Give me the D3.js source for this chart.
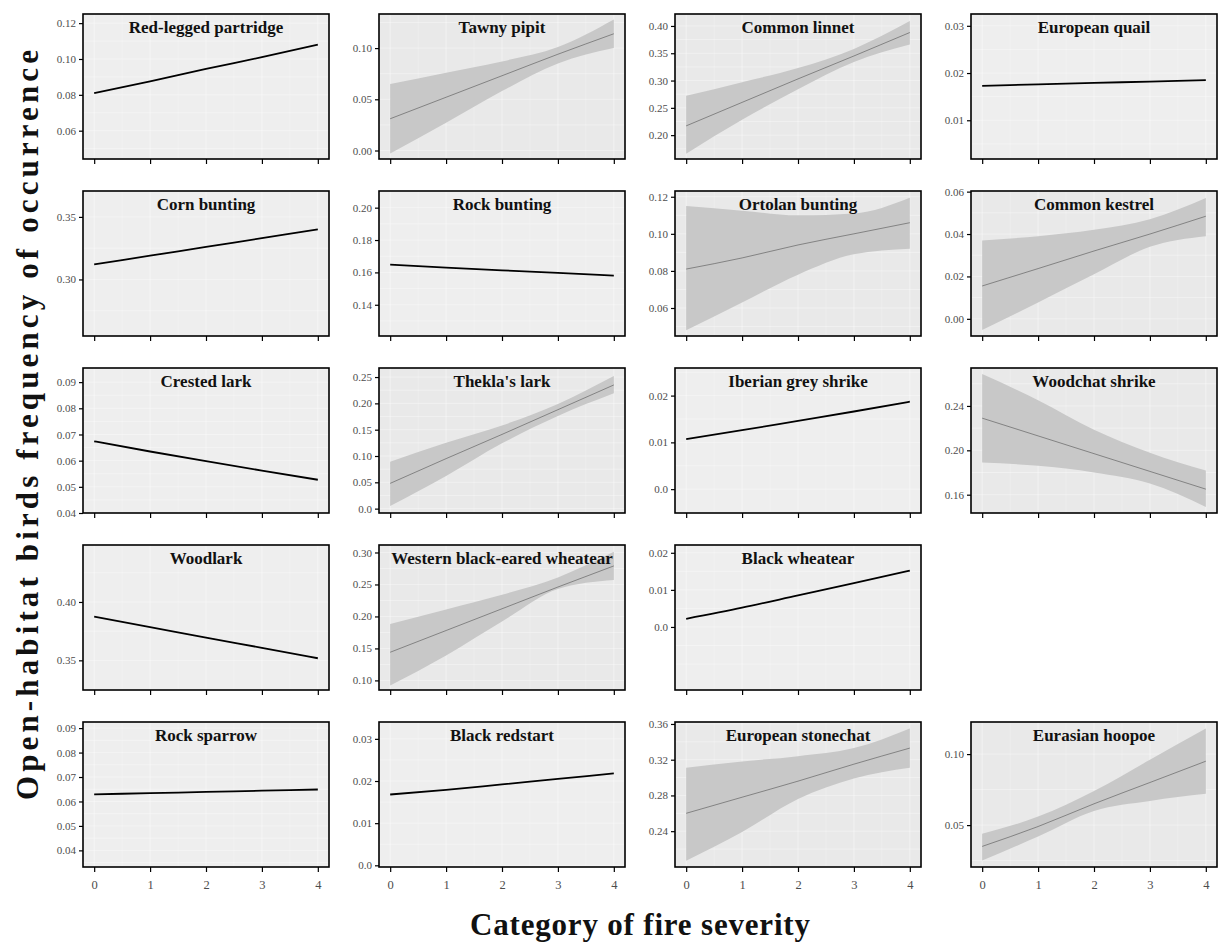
<!DOCTYPE html>
<html>
<head>
<meta charset="utf-8">
<script src="https://cdn.jsdelivr.net/npm/d3@7"></script>
<style>
  body { margin: 0; background: #fff; }
  svg { display: block; font-family: "Liberation Serif", "DejaVu Serif", serif; }
</style>
</head>
<body>
<svg id="chart"></svg>
<script>
// fire severity categories (x)
const severity = [0, 1, 2, 3, 4];

const species = [
  "Red-legged partridge", "Tawny pipit", "Common linnet", "European quail",
  "Corn bunting", "Rock bunting", "Ortolan bunting", "Common kestrel",
  "Crested lark", "Thekla's lark", "Iberian grey shrike", "Woodchat shrike",
  "Woodlark", "Western black-eared wheatear", "Black wheatear",
  "Rock sparrow", "Black redstart", "European stonechat", "Eurasian hoopoe"
];

// y limits of each panel
const yLimits = [
  [0.0442, 0.1251], [-0.0083, 0.1333], [0.1563, 0.4219], [0.0018, 0.0325],
  [0.2548, 0.3707], [0.1207, 0.2103], [0.0449, 0.1231], [-0.0081, 0.0603],
  [0.0400, 0.0954], [-0.0083, 0.2672], [-0.0051, 0.0259], [0.1435, 0.2742],
  [0.3246, 0.4488], [0.0850, 0.3117], [-0.0170, 0.0221],
  [0.0332, 0.0925], [-0.0004, 0.0340], [0.1999, 0.3622], [0.0205, 0.1226]
];

const yTicks = [
  [0.06, 0.08, 0.10, 0.12], [0, 0.05, 0.10], [0.20, 0.25, 0.30, 0.35, 0.40], [0.01, 0.02, 0.03],
  [0.30, 0.35], [0.14, 0.16, 0.18, 0.20], [0.06, 0.08, 0.10, 0.12], [0, 0.02, 0.04, 0.06],
  [0.04, 0.05, 0.06, 0.07, 0.08, 0.09], [0, 0.05, 0.10, 0.15, 0.20, 0.25], [0, 0.01, 0.02], [0.16, 0.20, 0.24],
  [0.35, 0.40], [0.10, 0.15, 0.20, 0.25, 0.30], [0, 0.01, 0.02],
  [0.04, 0.05, 0.06, 0.07, 0.08, 0.09], [0, 0.01, 0.02, 0.03], [0.24, 0.28, 0.32, 0.36], [0.05, 0.10]
];

const yTickLabels = [
  ["0.06", "0.08", "0.10", "0.12"], ["0.00", "0.05", "0.10"], ["0.20", "0.25", "0.30", "0.35", "0.40"], ["0.01", "0.02", "0.03"],
  ["0.30", "0.35"], ["0.14", "0.16", "0.18", "0.20"], ["0.06", "0.08", "0.10", "0.12"], ["0.00", "0.02", "0.04", "0.06"],
  ["0.04", "0.05", "0.06", "0.07", "0.08", "0.09"], ["0.0", "0.05", "0.10", "0.15", "0.20", "0.25"], ["0.0", "0.01", "0.02"], ["0.16", "0.20", "0.24"],
  ["0.35", "0.40"], ["0.10", "0.15", "0.20", "0.25", "0.30"], ["0.0", "0.01", "0.02"],
  ["0.04", "0.05", "0.06", "0.07", "0.08", "0.09"], ["0.0", "0.01", "0.02", "0.03"], ["0.24", "0.28", "0.32", "0.36"], ["0.05", "0.10"]
];

// predicted frequency of occurrence at severity 0..4
const fitted = [
  [0.081, 0.0875, 0.0945, 0.101, 0.108], [0.031, 0.052, 0.073, 0.094, 0.114],
  [0.217, 0.260, 0.303, 0.345, 0.388], [0.0173, 0.0176, 0.0179, 0.0182, 0.0185],
  [0.312, 0.319, 0.326, 0.333, 0.340], [0.1648, 0.163, 0.1613, 0.1597, 0.158],
  [0.081, 0.087, 0.094, 0.100, 0.106], [0.0155, 0.0237, 0.032, 0.040, 0.0484],
  [0.0674, 0.0635, 0.0598, 0.0562, 0.0527], [0.048, 0.095, 0.141, 0.188, 0.235],
  [0.0107, 0.0126, 0.0146, 0.0166, 0.0187], [0.229, 0.213, 0.197, 0.181, 0.165],
  [0.3874, 0.3785, 0.3695, 0.3607, 0.3518], [0.144, 0.178, 0.212, 0.246, 0.279],
  [0.0022, 0.0052, 0.0085, 0.0118, 0.0152],
  [0.0629, 0.0634, 0.0639, 0.0644, 0.0649], [0.0168, 0.0179, 0.0192, 0.0205, 0.0218],
  [0.260, 0.278, 0.296, 0.315, 0.333], [0.035, 0.049, 0.065, 0.080, 0.095]
];

// confidence band (null = not drawn)
const bandLow = [
  null, [-0.003, 0.027, 0.058, 0.085, 0.100], [0.166, 0.228, 0.284, 0.334, 0.366], null,
  null, null, [0.048, 0.063, 0.078, 0.089, 0.092], [-0.0053, 0.0077, 0.021, 0.034, 0.039],
  null, [0.005, 0.062, 0.124, 0.176, 0.219], null, [0.189, 0.186, 0.180, 0.170, 0.149],
  null, [0.092, 0.139, 0.192, 0.243, 0.257], null,
  null, null, [0.207, 0.239, 0.276, 0.299, 0.311], [0.025, 0.042, 0.060, 0.067, 0.072]
];
const bandHigh = [
  null, [0.065, 0.076, 0.087, 0.101, 0.128], [0.272, 0.297, 0.323, 0.358, 0.409], null,
  null, null, [0.115, 0.1125, 0.110, 0.111, 0.1195], [0.037, 0.039, 0.042, 0.047, 0.057],
  null, [0.089, 0.125, 0.158, 0.199, 0.252], null, [0.2687, 0.2452, 0.2186, 0.1978, 0.1817],
  null, [0.188, 0.211, 0.234, 0.261, 0.301], null,
  null, null, [0.311, 0.318, 0.324, 0.333, 0.355], [0.044, 0.056, 0.074, 0.096, 0.118]
];

const xTicks = [0, 1, 2, 3, 4];

const width = 1220, height = 947;
const panelW = 246, panelH = 145;
const colStep = 296, rowStep = 177;
const left0 = 83, top0 = 14;

const svg = d3.select("#chart").attr("width", width).attr("height", height);

const x = d3.scaleLinear().domain([-0.2, 4.2]).range([0, panelW]);

species.forEach((name, i) => {
  // the 4th row has only three panels
  let slot = i < 15 ? i : i + 1,
    row = Math.floor(slot / 4),
    col = slot % 4;

  let g = svg.append("g")
    .attr("transform", "translate(" + (left0 + col * colStep) + "," + (top0 + row * rowStep) + ")");

  let y = d3.scaleLinear().domain(yLimits[i]).range([panelH, 0]);
  let hasBand = bandLow[i] != null;

  g.append("rect")
    .attr("width", panelW)
    .attr("height", panelH)
    .attr("fill", hasBand ? "#e9e9e9" : "#eeeeee");

  // faint grid
  let minorX = d3.range(-0.5, 4.6, 0.5);
  g.selectAll(".gx")
    .data(minorX.filter((v) => v >= -0.2 && v <= 4.2))
    .enter()
    .append("line")
    .attr("x1", (d) => x(d)).attr("x2", (d) => x(d))
    .attr("y1", 0).attr("y2", panelH)
    .attr("stroke", "#ffffff")
    .attr("stroke-opacity", (d) => (d % 1 == 0 ? 0.55 : 0.3))
    .attr("stroke-width", 0.8);

  let tk = yTicks[i], step = tk.length > 1 ? tk[1] - tk[0] : 0.05;
  let gy = [];
  for (let k = -2; k <= tk.length * 2 + 2; k++) gy.push(tk[0] + (k * step) / 2);
  g.selectAll(".gy")
    .data(gy.filter((v) => v >= yLimits[i][0] && v <= yLimits[i][1]))
    .enter()
    .append("line")
    .attr("x1", 0).attr("x2", panelW)
    .attr("y1", (d) => y(d)).attr("y2", (d) => y(d))
    .attr("stroke", "#ffffff")
    .attr("stroke-opacity", 0.45)
    .attr("stroke-width", 0.8);

  let pts = severity.map((s, k) => ({ s: s, v: fitted[i][k], lo: hasBand ? bandLow[i][k] : null, hi: hasBand ? bandHigh[i][k] : null }));

  let clipId = "clip" + i;
  g.append("clipPath").attr("id", clipId)
    .append("rect").attr("width", panelW).attr("height", panelH);

  let plot = g.append("g").attr("clip-path", "url(#" + clipId + ")");

  if (hasBand) {
    let area = d3.area()
      .curve(d3.curveMonotoneX)
      .x((d) => x(d.s))
      .y0((d) => y(d.lo))
      .y1((d) => y(d.hi));
    plot.append("path")
      .datum(pts)
      .attr("d", area)
      .attr("fill", "#c8c8c8");
  }

  let line = d3.line()
    .curve(d3.curveMonotoneX)
    .x((d) => x(d.s))
    .y((d) => y(d.v));
  plot.append("path")
    .datum(pts)
    .attr("d", line)
    .attr("fill", "none")
    .attr("stroke", hasBand ? "#7a7a7a" : "#000000")
    .attr("stroke-width", hasBand ? 0.9 : 1.8);

  // axes
  let yAxis = d3.axisLeft(y)
    .tickValues(yTicks[i])
    .tickFormat((d, k) => yTickLabels[i][k])
    .tickSize(4)
    .tickPadding(3);
  let ya = g.append("g").call(yAxis);
  ya.select(".domain").remove();
  ya.selectAll(".tick text").style("font-size", "11px");

  let bottomRow = row == 4;
  let xAxis = d3.axisBottom(x)
    .tickValues(xTicks)
    .tickFormat(bottomRow ? d3.format("d") : () => "")
    .tickSize(5)
    .tickPadding(8);
  let xa = g.append("g").attr("transform", "translate(0," + panelH + ")").call(xAxis);
  xa.select(".domain").remove();
  xa.selectAll(".tick text").style("font-size", "12.5px");

  g.selectAll(".tick line").attr("stroke", "#000").attr("stroke-width", 1.2);
  g.selectAll(".tick text")
    .attr("fill", "#4d4d4d")
    .style("font-family", "'Liberation Serif', serif");

  g.append("rect")
    .attr("width", panelW)
    .attr("height", panelH)
    .attr("fill", "none")
    .attr("stroke", "#000")
    .attr("stroke-width", 1.6);

  g.append("text")
    .attr("x", panelW / 2)
    .attr("y", 19)
    .attr("text-anchor", "middle")
    .attr("font-weight", "bold")
    .attr("font-size", "17px")
    .attr("fill", "#111")
    .text(name);
});

// axis titles
svg.append("text")
  .attr("x", 640)
  .attr("y", 935)
  .attr("text-anchor", "middle")
  .attr("font-weight", "bold")
  .attr("font-size", "31px")
  .attr("textLength", 340)
  .attr("lengthAdjust", "spacing")
  .attr("fill", "#111")
  .text("Category of fire severity");

svg.append("text")
  .attr("transform", "translate(38,425) rotate(-90)")
  .attr("text-anchor", "middle")
  .attr("font-weight", "bold")
  .attr("font-size", "31px")
  .attr("textLength", 750)
  .attr("lengthAdjust", "spacing")
  .attr("fill", "#111")
  .text("Open-habitat birds frequency of  occurrence");
</script>
</body>
</html>
